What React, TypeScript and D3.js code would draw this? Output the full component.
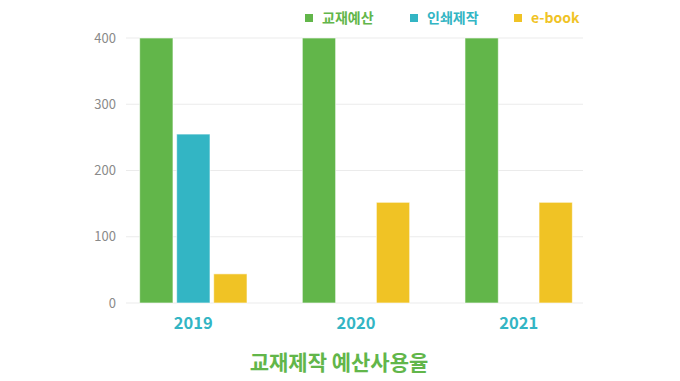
import React from "react";
import * as d3 from "d3";

const years = ["2019", "2020", "2021"];
const seriesNames = ["교재예산", "인쇄제작", "e-book"];
const budget = [400, 400, 400];
const printing = [255, 0, 0];
const ebook = [44, 152, 152];
const yTicks = [0, 100, 200, 300, 400];
const colors = ["#62b64a", "#33b5c4", "#f0c325"];
const title = "교재제작 예산사용율";

const W = 680, H = 381;
const left = 126, right = 583, top = 38, bottom = 303;

export default function App() {
  const series = [budget, printing, ebook];
  const x = d3.scaleBand().domain(years).range([112, 600]).paddingInner(0.34).paddingOuter(0.17);
  const x1 = d3.scaleBand().domain(seriesNames).range([0, x.bandwidth()]).paddingInner(0.1);
  const y = d3.scaleLinear().domain([0, 400]).range([bottom, top]);
  const font = "'Noto Sans CJK KR', 'Noto Sans', sans-serif";
  const legendX = [305, 410, 514];
  return (
    <svg width={W} height={H} style={{ position: "absolute", left: 0, top: 0, fontFamily: font }}>
      <rect width={W} height={H} fill="#fff" />
      {yTicks.map((t) => (
        <g key={t}>
          <line x1={left} x2={right} y1={y(t)} y2={y(t)} stroke="#ebebeb" strokeWidth={1} />
          <text x={116} y={y(t)} dy="0.35em" textAnchor="end" fontSize={13} fill="#8a8a8a">{t}</text>
        </g>
      ))}
      {years.map((yr, i) => (
        <g key={yr} transform={`translate(${x(yr)},0)`}>
          {series.map((s, j) => s[i] > 0 ? (
            <rect key={j} x={x1(seriesNames[j])} y={y(Math.min(s[i], 400))} width={x1.bandwidth()}
              height={y(0) - y(Math.min(s[i], 400))} fill={colors[j]} stroke="#fff" strokeOpacity={0.6} strokeWidth={1} />
          ) : null)}
          <text x={x.bandwidth() / 2} y={329} textAnchor="middle" fontSize={16.5} fontWeight="bold" fill="#33b5c4">{yr}</text>
        </g>
      ))}
      {seriesNames.map((n, j) => (
        <g key={n}>
          <rect x={legendX[j]} y={14} width={8} height={8} fill={colors[j]} />
          <text x={legendX[j] + 17} y={18} dy="0.35em" fontSize={14} fontWeight="bold" fill={colors[j]}>{n}</text>
        </g>
      ))}
      <text x={339} y={363} dy="0.35em" textAnchor="middle" fontSize={21} fontWeight="bold" fill="#62b64a">{title}</text>
    </svg>
  );
}
